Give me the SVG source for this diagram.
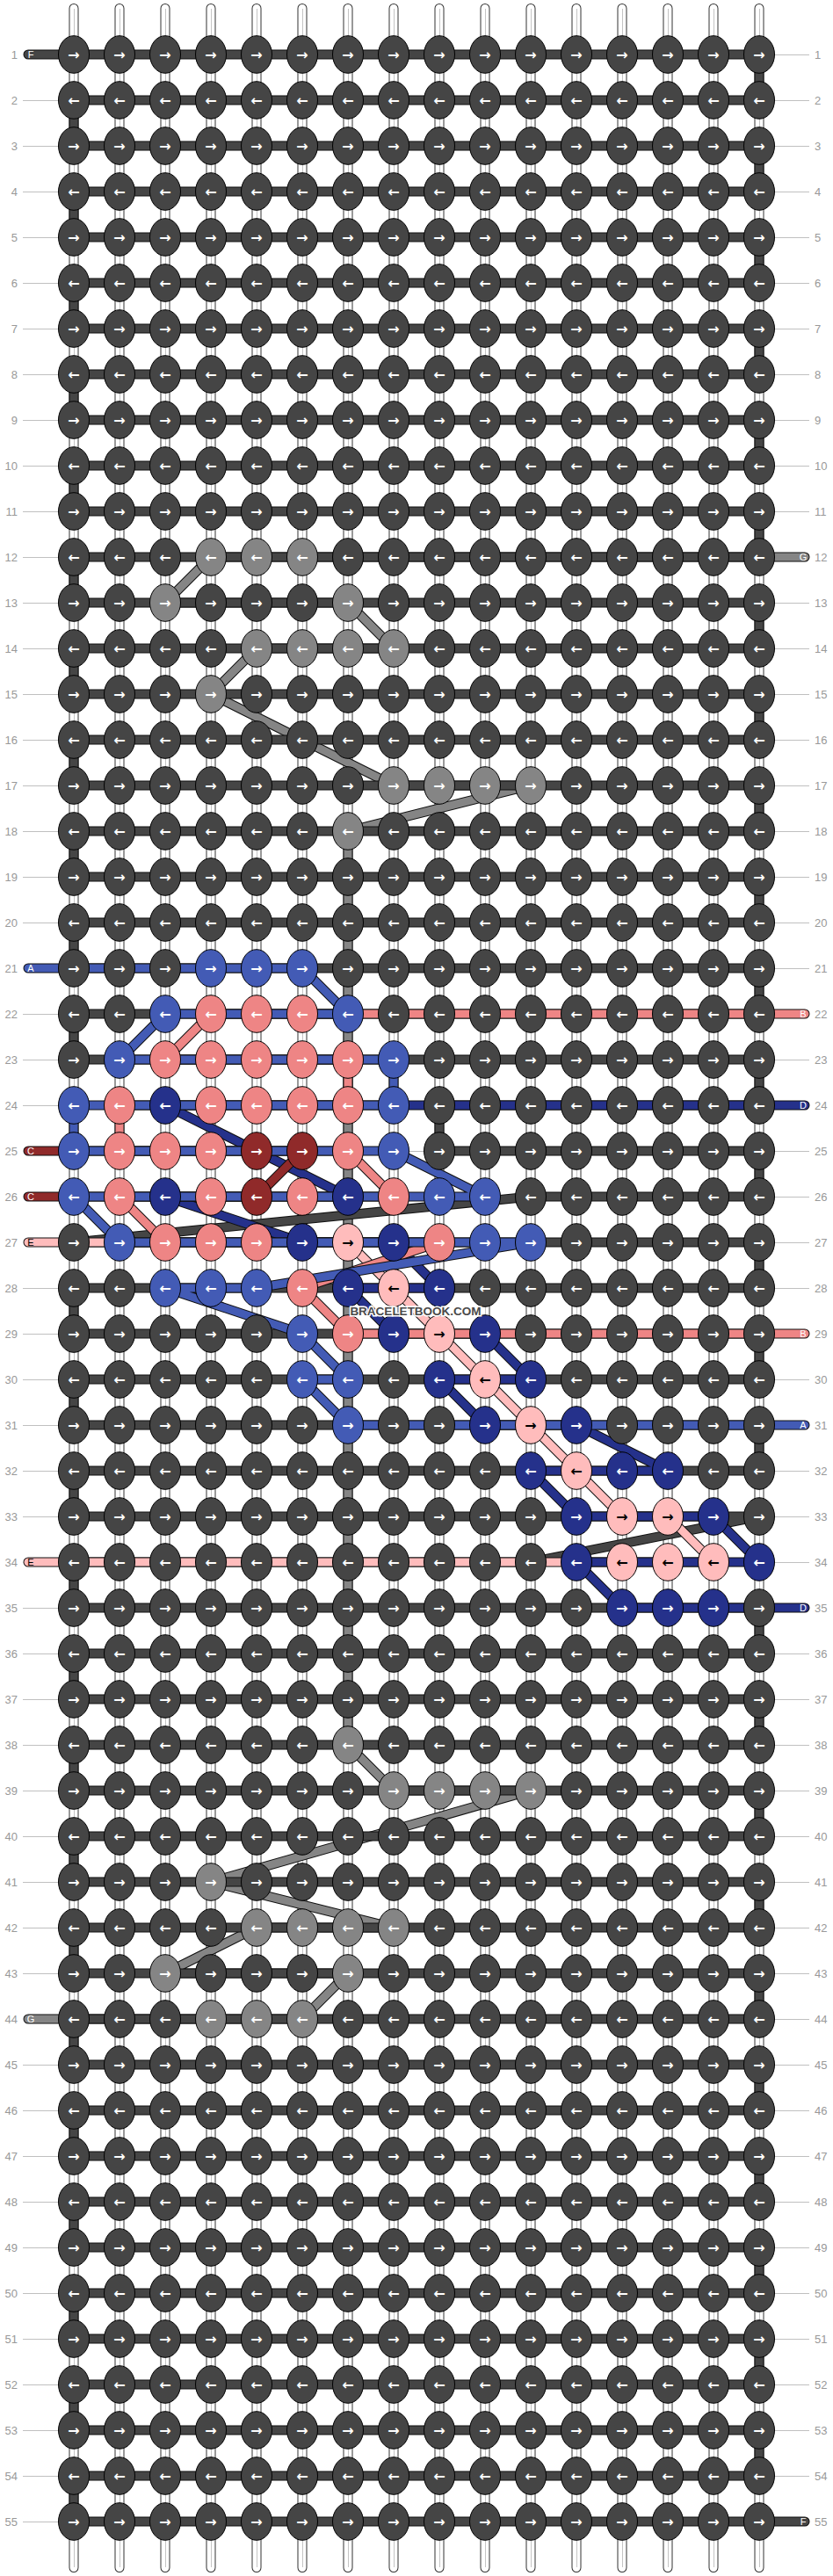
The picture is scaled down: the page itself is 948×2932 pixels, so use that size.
<svg xmlns="http://www.w3.org/2000/svg" width="948" height="2932" viewBox="0 0 948 2932">
<style>
.bo{fill:none;stroke:#333;stroke-width:11;stroke-linecap:round}
.bw{fill:none;stroke:#fff;stroke-width:9;stroke-linecap:round}
.bc{fill:none;stroke:#c4c4c4;stroke-width:1}
.so{stroke:#111;stroke-width:11;stroke-linecap:round;stroke-linejoin:round}
.s{stroke-width:9;stroke-linecap:round;stroke-linejoin:round}
.ar{font-family:"DejaVu Sans",sans-serif;font-size:16px;font-weight:bold;text-anchor:middle;fill:#fff}
.ak{fill:#000}
.lab{font-family:"Liberation Sans",Arial,sans-serif;font-size:13px;fill:#999}
.ln{text-anchor:end}
.tag{font-family:"Liberation Sans",Arial,sans-serif;font-size:11px;text-anchor:middle;fill:#fff}
.rl{fill:none;stroke:#c0c0c0;stroke-width:1}
</style>
<defs>
<path id="pF" fill="none" d="M32 62H864V114H84V166H864V218H84V270H864V322H84V374H864V426H84V478H864V530H84V582H864V634H84V686H864V738H84V790H864V842H84V894H864V946H84V998H864V1050H84V1102H864V1154H84V1206H864V1258H500V1310H864V1362H604L84 1414H864V1466H84V1518H864V1570H84V1622H864V1674H84V1726H864L604 1778H84V1830H864V1882H84V1934H864V1986H84V2038H864V2090H84V2142H864V2194H84V2246H864V2298H84V2350H864V2402H84V2454H864V2506H84V2558H864V2610H84V2662H864V2714H84V2766H864V2818H84V2870H916"/>
<path id="pG" fill="none" d="M916 634H240L188 686H396L448 738H292L240 790L448 894H604L396 946V1986L448 2038H604L240 2142L448 2194H292L188 2246H396L344 2298H32"/>
<path id="pE" fill="none" d="M32 1414H396L448 1466L500 1518L552 1570L604 1622L656 1674L708 1726H760L812 1778H32"/>
<path id="pD" fill="none" d="M916 1258H188L396 1362H188L344 1414H448L500 1466H396L448 1518H552L604 1570H500L552 1622H656L760 1674H604L656 1726H812L864 1778H656L708 1830H916"/>
<path id="pC" fill="none" d="M32 1310H344L292 1362H32"/>
<path id="pB" fill="none" d="M916 1154H240L188 1206H396V1258H136V1310H396L448 1362H136L188 1414H500L344 1466L396 1518H916"/>
<path id="pA" fill="none" d="M32 1102H344L396 1154H188L136 1206H448V1258H84V1310H448L552 1362H84L136 1414H604L292 1466H188L344 1518L396 1570H344L396 1622H916"/>
<g id="fR"><ellipse rx="17.5" ry="21.3" fill="#454545" stroke="#000"/><text class="ar" y="5.5">→</text></g>
<g id="fL"><ellipse rx="17.5" ry="21.3" fill="#454545" stroke="#000"/><text class="ar" y="5.5">←</text></g>
<g id="gR"><ellipse rx="17.5" ry="21.3" fill="#858585" stroke="#000"/><text class="ar" y="5.5">→</text></g>
<g id="gL"><ellipse rx="17.5" ry="21.3" fill="#858585" stroke="#000"/><text class="ar" y="5.5">←</text></g>
<g id="aR"><ellipse rx="17.5" ry="21.3" fill="#435bb5" stroke="#000"/><text class="ar" y="5.5">→</text></g>
<g id="aL"><ellipse rx="17.5" ry="21.3" fill="#435bb5" stroke="#000"/><text class="ar" y="5.5">←</text></g>
<g id="bR"><ellipse rx="17.5" ry="21.3" fill="#ee8585" stroke="#000"/><text class="ar" y="5.5">→</text></g>
<g id="bL"><ellipse rx="17.5" ry="21.3" fill="#ee8585" stroke="#000"/><text class="ar" y="5.5">←</text></g>
<g id="cR"><ellipse rx="17.5" ry="21.3" fill="#902a2a" stroke="#000"/><text class="ar" y="5.5">→</text></g>
<g id="cL"><ellipse rx="17.5" ry="21.3" fill="#902a2a" stroke="#000"/><text class="ar" y="5.5">←</text></g>
<g id="dR"><ellipse rx="17.5" ry="21.3" fill="#25318b" stroke="#000"/><text class="ar" y="5.5">→</text></g>
<g id="dL"><ellipse rx="17.5" ry="21.3" fill="#25318b" stroke="#000"/><text class="ar" y="5.5">←</text></g>
<g id="eR"><ellipse rx="17.5" ry="21.3" fill="#ffbcbc" stroke="#000"/><text class="ar ak" y="5.5">→</text></g>
<g id="eL"><ellipse rx="17.5" ry="21.3" fill="#ffbcbc" stroke="#000"/><text class="ar ak" y="5.5">←</text></g>
</defs>
<rect width="948" height="2932" fill="#fff"/>
<g id="base-strings">
<path class="bo" d="M84 9.5V2922.5M136 9.5V2922.5M188 9.5V2922.5M240 9.5V2922.5M292 9.5V2922.5M344 9.5V2922.5M396 9.5V2922.5M448 9.5V2922.5M500 9.5V2922.5M552 9.5V2922.5M604 9.5V2922.5M656 9.5V2922.5M708 9.5V2922.5M760 9.5V2922.5M812 9.5V2922.5M864 9.5V2922.5"/>
<path class="bw" d="M84 9.5V2922.5M136 9.5V2922.5M188 9.5V2922.5M240 9.5V2922.5M292 9.5V2922.5M344 9.5V2922.5M396 9.5V2922.5M448 9.5V2922.5M500 9.5V2922.5M552 9.5V2922.5M604 9.5V2922.5M656 9.5V2922.5M708 9.5V2922.5M760 9.5V2922.5M812 9.5V2922.5M864 9.5V2922.5"/>
<path class="bc" d="M84.5 10V2922M136.5 10V2922M188.5 10V2922M240.5 10V2922M292.5 10V2922M344.5 10V2922M396.5 10V2922M448.5 10V2922M500.5 10V2922M552.5 10V2922M604.5 10V2922M656.5 10V2922M708.5 10V2922M760.5 10V2922M812.5 10V2922M864.5 10V2922"/>
</g>
<g id="connectors">
<use href="#pG" class="so"/><use href="#pG" class="s" stroke="#858585"/>
<use href="#pF" class="so"/><use href="#pF" class="s" stroke="#454545"/>
<use href="#pE" class="so"/><use href="#pE" class="s" stroke="#ffbcbc"/>
<use href="#pD" class="so"/><use href="#pD" class="s" stroke="#25318b"/>
<use href="#pC" class="so"/><use href="#pC" class="s" stroke="#902a2a"/>
<use href="#pB" class="so"/><use href="#pB" class="s" stroke="#ee8585"/>
<use href="#pA" class="so"/><use href="#pA" class="s" stroke="#435bb5"/>
<path d="M466 1310.5H484" stroke="#bbb" stroke-width="1"/>
</g>
<g id="row-lines" class="rl">
<path d="M26 114.5h40M26 166.5h40M26 218.5h40M26 270.5h40M26 322.5h40M26 374.5h40M26 426.5h40M26 478.5h40M26 530.5h40M26 582.5h40M26 634.5h40M26 686.5h40M26 738.5h40M26 790.5h40M26 842.5h40M26 894.5h40M26 946.5h40M26 998.5h40M26 1050.5h40M26 1154.5h40M26 1206.5h40M26 1258.5h40M26 1466.5h40M26 1518.5h40M26 1570.5h40M26 1622.5h40M26 1674.5h40M26 1726.5h40M26 1830.5h40M26 1882.5h40M26 1934.5h40M26 1986.5h40M26 2038.5h40M26 2090.5h40M26 2142.5h40M26 2194.5h40M26 2246.5h40M26 2350.5h40M26 2402.5h40M26 2454.5h40M26 2506.5h40M26 2558.5h40M26 2610.5h40M26 2662.5h40M26 2714.5h40M26 2766.5h40M26 2818.5h40M26 2870.5h40"/>
<path d="M882 62.5h39M882 114.5h39M882 166.5h39M882 218.5h39M882 270.5h39M882 322.5h39M882 374.5h39M882 426.5h39M882 478.5h39M882 530.5h39M882 582.5h39M882 686.5h39M882 738.5h39M882 790.5h39M882 842.5h39M882 894.5h39M882 946.5h39M882 998.5h39M882 1050.5h39M882 1102.5h39M882 1206.5h39M882 1310.5h39M882 1362.5h39M882 1414.5h39M882 1466.5h39M882 1570.5h39M882 1674.5h39M882 1726.5h39M882 1778.5h39M882 1882.5h39M882 1934.5h39M882 1986.5h39M882 2038.5h39M882 2090.5h39M882 2142.5h39M882 2194.5h39M882 2246.5h39M882 2298.5h39M882 2350.5h39M882 2402.5h39M882 2454.5h39M882 2506.5h39M882 2558.5h39M882 2610.5h39M882 2662.5h39M882 2714.5h39M882 2766.5h39M882 2818.5h39"/>
</g>
<g id="knots">
<g id="r1" transform="translate(0,62)"><use id="n1-0" href="#fR" x="84"/><use id="n1-1" href="#fR" x="136"/><use id="n1-2" href="#fR" x="188"/><use id="n1-3" href="#fR" x="240"/><use id="n1-4" href="#fR" x="292"/><use id="n1-5" href="#fR" x="344"/><use id="n1-6" href="#fR" x="396"/><use id="n1-7" href="#fR" x="448"/><use id="n1-8" href="#fR" x="500"/><use id="n1-9" href="#fR" x="552"/><use id="n1-10" href="#fR" x="604"/><use id="n1-11" href="#fR" x="656"/><use id="n1-12" href="#fR" x="708"/><use id="n1-13" href="#fR" x="760"/><use id="n1-14" href="#fR" x="812"/><use id="n1-15" href="#fR" x="864"/></g>
<g id="r2" transform="translate(0,114)"><use id="n2-0" href="#fL" x="84"/><use id="n2-1" href="#fL" x="136"/><use id="n2-2" href="#fL" x="188"/><use id="n2-3" href="#fL" x="240"/><use id="n2-4" href="#fL" x="292"/><use id="n2-5" href="#fL" x="344"/><use id="n2-6" href="#fL" x="396"/><use id="n2-7" href="#fL" x="448"/><use id="n2-8" href="#fL" x="500"/><use id="n2-9" href="#fL" x="552"/><use id="n2-10" href="#fL" x="604"/><use id="n2-11" href="#fL" x="656"/><use id="n2-12" href="#fL" x="708"/><use id="n2-13" href="#fL" x="760"/><use id="n2-14" href="#fL" x="812"/><use id="n2-15" href="#fL" x="864"/></g>
<g id="r3" transform="translate(0,166)"><use id="n3-0" href="#fR" x="84"/><use id="n3-1" href="#fR" x="136"/><use id="n3-2" href="#fR" x="188"/><use id="n3-3" href="#fR" x="240"/><use id="n3-4" href="#fR" x="292"/><use id="n3-5" href="#fR" x="344"/><use id="n3-6" href="#fR" x="396"/><use id="n3-7" href="#fR" x="448"/><use id="n3-8" href="#fR" x="500"/><use id="n3-9" href="#fR" x="552"/><use id="n3-10" href="#fR" x="604"/><use id="n3-11" href="#fR" x="656"/><use id="n3-12" href="#fR" x="708"/><use id="n3-13" href="#fR" x="760"/><use id="n3-14" href="#fR" x="812"/><use id="n3-15" href="#fR" x="864"/></g>
<g id="r4" transform="translate(0,218)"><use id="n4-0" href="#fL" x="84"/><use id="n4-1" href="#fL" x="136"/><use id="n4-2" href="#fL" x="188"/><use id="n4-3" href="#fL" x="240"/><use id="n4-4" href="#fL" x="292"/><use id="n4-5" href="#fL" x="344"/><use id="n4-6" href="#fL" x="396"/><use id="n4-7" href="#fL" x="448"/><use id="n4-8" href="#fL" x="500"/><use id="n4-9" href="#fL" x="552"/><use id="n4-10" href="#fL" x="604"/><use id="n4-11" href="#fL" x="656"/><use id="n4-12" href="#fL" x="708"/><use id="n4-13" href="#fL" x="760"/><use id="n4-14" href="#fL" x="812"/><use id="n4-15" href="#fL" x="864"/></g>
<g id="r5" transform="translate(0,270)"><use id="n5-0" href="#fR" x="84"/><use id="n5-1" href="#fR" x="136"/><use id="n5-2" href="#fR" x="188"/><use id="n5-3" href="#fR" x="240"/><use id="n5-4" href="#fR" x="292"/><use id="n5-5" href="#fR" x="344"/><use id="n5-6" href="#fR" x="396"/><use id="n5-7" href="#fR" x="448"/><use id="n5-8" href="#fR" x="500"/><use id="n5-9" href="#fR" x="552"/><use id="n5-10" href="#fR" x="604"/><use id="n5-11" href="#fR" x="656"/><use id="n5-12" href="#fR" x="708"/><use id="n5-13" href="#fR" x="760"/><use id="n5-14" href="#fR" x="812"/><use id="n5-15" href="#fR" x="864"/></g>
<g id="r6" transform="translate(0,322)"><use id="n6-0" href="#fL" x="84"/><use id="n6-1" href="#fL" x="136"/><use id="n6-2" href="#fL" x="188"/><use id="n6-3" href="#fL" x="240"/><use id="n6-4" href="#fL" x="292"/><use id="n6-5" href="#fL" x="344"/><use id="n6-6" href="#fL" x="396"/><use id="n6-7" href="#fL" x="448"/><use id="n6-8" href="#fL" x="500"/><use id="n6-9" href="#fL" x="552"/><use id="n6-10" href="#fL" x="604"/><use id="n6-11" href="#fL" x="656"/><use id="n6-12" href="#fL" x="708"/><use id="n6-13" href="#fL" x="760"/><use id="n6-14" href="#fL" x="812"/><use id="n6-15" href="#fL" x="864"/></g>
<g id="r7" transform="translate(0,374)"><use id="n7-0" href="#fR" x="84"/><use id="n7-1" href="#fR" x="136"/><use id="n7-2" href="#fR" x="188"/><use id="n7-3" href="#fR" x="240"/><use id="n7-4" href="#fR" x="292"/><use id="n7-5" href="#fR" x="344"/><use id="n7-6" href="#fR" x="396"/><use id="n7-7" href="#fR" x="448"/><use id="n7-8" href="#fR" x="500"/><use id="n7-9" href="#fR" x="552"/><use id="n7-10" href="#fR" x="604"/><use id="n7-11" href="#fR" x="656"/><use id="n7-12" href="#fR" x="708"/><use id="n7-13" href="#fR" x="760"/><use id="n7-14" href="#fR" x="812"/><use id="n7-15" href="#fR" x="864"/></g>
<g id="r8" transform="translate(0,426)"><use id="n8-0" href="#fL" x="84"/><use id="n8-1" href="#fL" x="136"/><use id="n8-2" href="#fL" x="188"/><use id="n8-3" href="#fL" x="240"/><use id="n8-4" href="#fL" x="292"/><use id="n8-5" href="#fL" x="344"/><use id="n8-6" href="#fL" x="396"/><use id="n8-7" href="#fL" x="448"/><use id="n8-8" href="#fL" x="500"/><use id="n8-9" href="#fL" x="552"/><use id="n8-10" href="#fL" x="604"/><use id="n8-11" href="#fL" x="656"/><use id="n8-12" href="#fL" x="708"/><use id="n8-13" href="#fL" x="760"/><use id="n8-14" href="#fL" x="812"/><use id="n8-15" href="#fL" x="864"/></g>
<g id="r9" transform="translate(0,478)"><use id="n9-0" href="#fR" x="84"/><use id="n9-1" href="#fR" x="136"/><use id="n9-2" href="#fR" x="188"/><use id="n9-3" href="#fR" x="240"/><use id="n9-4" href="#fR" x="292"/><use id="n9-5" href="#fR" x="344"/><use id="n9-6" href="#fR" x="396"/><use id="n9-7" href="#fR" x="448"/><use id="n9-8" href="#fR" x="500"/><use id="n9-9" href="#fR" x="552"/><use id="n9-10" href="#fR" x="604"/><use id="n9-11" href="#fR" x="656"/><use id="n9-12" href="#fR" x="708"/><use id="n9-13" href="#fR" x="760"/><use id="n9-14" href="#fR" x="812"/><use id="n9-15" href="#fR" x="864"/></g>
<g id="r10" transform="translate(0,530)"><use id="n10-0" href="#fL" x="84"/><use id="n10-1" href="#fL" x="136"/><use id="n10-2" href="#fL" x="188"/><use id="n10-3" href="#fL" x="240"/><use id="n10-4" href="#fL" x="292"/><use id="n10-5" href="#fL" x="344"/><use id="n10-6" href="#fL" x="396"/><use id="n10-7" href="#fL" x="448"/><use id="n10-8" href="#fL" x="500"/><use id="n10-9" href="#fL" x="552"/><use id="n10-10" href="#fL" x="604"/><use id="n10-11" href="#fL" x="656"/><use id="n10-12" href="#fL" x="708"/><use id="n10-13" href="#fL" x="760"/><use id="n10-14" href="#fL" x="812"/><use id="n10-15" href="#fL" x="864"/></g>
<g id="r11" transform="translate(0,582)"><use id="n11-0" href="#fR" x="84"/><use id="n11-1" href="#fR" x="136"/><use id="n11-2" href="#fR" x="188"/><use id="n11-3" href="#fR" x="240"/><use id="n11-4" href="#fR" x="292"/><use id="n11-5" href="#fR" x="344"/><use id="n11-6" href="#fR" x="396"/><use id="n11-7" href="#fR" x="448"/><use id="n11-8" href="#fR" x="500"/><use id="n11-9" href="#fR" x="552"/><use id="n11-10" href="#fR" x="604"/><use id="n11-11" href="#fR" x="656"/><use id="n11-12" href="#fR" x="708"/><use id="n11-13" href="#fR" x="760"/><use id="n11-14" href="#fR" x="812"/><use id="n11-15" href="#fR" x="864"/></g>
<g id="r12" transform="translate(0,634)"><use id="n12-0" href="#fL" x="84"/><use id="n12-1" href="#fL" x="136"/><use id="n12-2" href="#fL" x="188"/><use id="n12-3" href="#gL" x="240"/><use id="n12-4" href="#gL" x="292"/><use id="n12-5" href="#gL" x="344"/><use id="n12-6" href="#fL" x="396"/><use id="n12-7" href="#fL" x="448"/><use id="n12-8" href="#fL" x="500"/><use id="n12-9" href="#fL" x="552"/><use id="n12-10" href="#fL" x="604"/><use id="n12-11" href="#fL" x="656"/><use id="n12-12" href="#fL" x="708"/><use id="n12-13" href="#fL" x="760"/><use id="n12-14" href="#fL" x="812"/><use id="n12-15" href="#fL" x="864"/></g>
<g id="r13" transform="translate(0,686)"><use id="n13-0" href="#fR" x="84"/><use id="n13-1" href="#fR" x="136"/><use id="n13-2" href="#gR" x="188"/><use id="n13-3" href="#fR" x="240"/><use id="n13-4" href="#fR" x="292"/><use id="n13-5" href="#fR" x="344"/><use id="n13-6" href="#gR" x="396"/><use id="n13-7" href="#fR" x="448"/><use id="n13-8" href="#fR" x="500"/><use id="n13-9" href="#fR" x="552"/><use id="n13-10" href="#fR" x="604"/><use id="n13-11" href="#fR" x="656"/><use id="n13-12" href="#fR" x="708"/><use id="n13-13" href="#fR" x="760"/><use id="n13-14" href="#fR" x="812"/><use id="n13-15" href="#fR" x="864"/></g>
<g id="r14" transform="translate(0,738)"><use id="n14-0" href="#fL" x="84"/><use id="n14-1" href="#fL" x="136"/><use id="n14-2" href="#fL" x="188"/><use id="n14-3" href="#fL" x="240"/><use id="n14-4" href="#gL" x="292"/><use id="n14-5" href="#gL" x="344"/><use id="n14-6" href="#gL" x="396"/><use id="n14-7" href="#gL" x="448"/><use id="n14-8" href="#fL" x="500"/><use id="n14-9" href="#fL" x="552"/><use id="n14-10" href="#fL" x="604"/><use id="n14-11" href="#fL" x="656"/><use id="n14-12" href="#fL" x="708"/><use id="n14-13" href="#fL" x="760"/><use id="n14-14" href="#fL" x="812"/><use id="n14-15" href="#fL" x="864"/></g>
<g id="r15" transform="translate(0,790)"><use id="n15-0" href="#fR" x="84"/><use id="n15-1" href="#fR" x="136"/><use id="n15-2" href="#fR" x="188"/><use id="n15-3" href="#gR" x="240"/><use id="n15-4" href="#fR" x="292"/><use id="n15-5" href="#fR" x="344"/><use id="n15-6" href="#fR" x="396"/><use id="n15-7" href="#fR" x="448"/><use id="n15-8" href="#fR" x="500"/><use id="n15-9" href="#fR" x="552"/><use id="n15-10" href="#fR" x="604"/><use id="n15-11" href="#fR" x="656"/><use id="n15-12" href="#fR" x="708"/><use id="n15-13" href="#fR" x="760"/><use id="n15-14" href="#fR" x="812"/><use id="n15-15" href="#fR" x="864"/></g>
<g id="r16" transform="translate(0,842)"><use id="n16-0" href="#fL" x="84"/><use id="n16-1" href="#fL" x="136"/><use id="n16-2" href="#fL" x="188"/><use id="n16-3" href="#fL" x="240"/><use id="n16-4" href="#fL" x="292"/><use id="n16-5" href="#fL" x="344"/><use id="n16-6" href="#fL" x="396"/><use id="n16-7" href="#fL" x="448"/><use id="n16-8" href="#fL" x="500"/><use id="n16-9" href="#fL" x="552"/><use id="n16-10" href="#fL" x="604"/><use id="n16-11" href="#fL" x="656"/><use id="n16-12" href="#fL" x="708"/><use id="n16-13" href="#fL" x="760"/><use id="n16-14" href="#fL" x="812"/><use id="n16-15" href="#fL" x="864"/></g>
<g id="r17" transform="translate(0,894)"><use id="n17-0" href="#fR" x="84"/><use id="n17-1" href="#fR" x="136"/><use id="n17-2" href="#fR" x="188"/><use id="n17-3" href="#fR" x="240"/><use id="n17-4" href="#fR" x="292"/><use id="n17-5" href="#fR" x="344"/><use id="n17-6" href="#fR" x="396"/><use id="n17-7" href="#gR" x="448"/><use id="n17-8" href="#gR" x="500"/><use id="n17-9" href="#gR" x="552"/><use id="n17-10" href="#gR" x="604"/><use id="n17-11" href="#fR" x="656"/><use id="n17-12" href="#fR" x="708"/><use id="n17-13" href="#fR" x="760"/><use id="n17-14" href="#fR" x="812"/><use id="n17-15" href="#fR" x="864"/></g>
<g id="r18" transform="translate(0,946)"><use id="n18-0" href="#fL" x="84"/><use id="n18-1" href="#fL" x="136"/><use id="n18-2" href="#fL" x="188"/><use id="n18-3" href="#fL" x="240"/><use id="n18-4" href="#fL" x="292"/><use id="n18-5" href="#fL" x="344"/><use id="n18-6" href="#gL" x="396"/><use id="n18-7" href="#fL" x="448"/><use id="n18-8" href="#fL" x="500"/><use id="n18-9" href="#fL" x="552"/><use id="n18-10" href="#fL" x="604"/><use id="n18-11" href="#fL" x="656"/><use id="n18-12" href="#fL" x="708"/><use id="n18-13" href="#fL" x="760"/><use id="n18-14" href="#fL" x="812"/><use id="n18-15" href="#fL" x="864"/></g>
<g id="r19" transform="translate(0,998)"><use id="n19-0" href="#fR" x="84"/><use id="n19-1" href="#fR" x="136"/><use id="n19-2" href="#fR" x="188"/><use id="n19-3" href="#fR" x="240"/><use id="n19-4" href="#fR" x="292"/><use id="n19-5" href="#fR" x="344"/><use id="n19-6" href="#fR" x="396"/><use id="n19-7" href="#fR" x="448"/><use id="n19-8" href="#fR" x="500"/><use id="n19-9" href="#fR" x="552"/><use id="n19-10" href="#fR" x="604"/><use id="n19-11" href="#fR" x="656"/><use id="n19-12" href="#fR" x="708"/><use id="n19-13" href="#fR" x="760"/><use id="n19-14" href="#fR" x="812"/><use id="n19-15" href="#fR" x="864"/></g>
<g id="r20" transform="translate(0,1050)"><use id="n20-0" href="#fL" x="84"/><use id="n20-1" href="#fL" x="136"/><use id="n20-2" href="#fL" x="188"/><use id="n20-3" href="#fL" x="240"/><use id="n20-4" href="#fL" x="292"/><use id="n20-5" href="#fL" x="344"/><use id="n20-6" href="#fL" x="396"/><use id="n20-7" href="#fL" x="448"/><use id="n20-8" href="#fL" x="500"/><use id="n20-9" href="#fL" x="552"/><use id="n20-10" href="#fL" x="604"/><use id="n20-11" href="#fL" x="656"/><use id="n20-12" href="#fL" x="708"/><use id="n20-13" href="#fL" x="760"/><use id="n20-14" href="#fL" x="812"/><use id="n20-15" href="#fL" x="864"/></g>
<g id="r21" transform="translate(0,1102)"><use id="n21-0" href="#fR" x="84"/><use id="n21-1" href="#fR" x="136"/><use id="n21-2" href="#fR" x="188"/><use id="n21-3" href="#aR" x="240"/><use id="n21-4" href="#aR" x="292"/><use id="n21-5" href="#aR" x="344"/><use id="n21-6" href="#fR" x="396"/><use id="n21-7" href="#fR" x="448"/><use id="n21-8" href="#fR" x="500"/><use id="n21-9" href="#fR" x="552"/><use id="n21-10" href="#fR" x="604"/><use id="n21-11" href="#fR" x="656"/><use id="n21-12" href="#fR" x="708"/><use id="n21-13" href="#fR" x="760"/><use id="n21-14" href="#fR" x="812"/><use id="n21-15" href="#fR" x="864"/></g>
<g id="r22" transform="translate(0,1154)"><use id="n22-0" href="#fL" x="84"/><use id="n22-1" href="#fL" x="136"/><use id="n22-2" href="#aL" x="188"/><use id="n22-3" href="#bL" x="240"/><use id="n22-4" href="#bL" x="292"/><use id="n22-5" href="#bL" x="344"/><use id="n22-6" href="#aL" x="396"/><use id="n22-7" href="#fL" x="448"/><use id="n22-8" href="#fL" x="500"/><use id="n22-9" href="#fL" x="552"/><use id="n22-10" href="#fL" x="604"/><use id="n22-11" href="#fL" x="656"/><use id="n22-12" href="#fL" x="708"/><use id="n22-13" href="#fL" x="760"/><use id="n22-14" href="#fL" x="812"/><use id="n22-15" href="#fL" x="864"/></g>
<g id="r23" transform="translate(0,1206)"><use id="n23-0" href="#fR" x="84"/><use id="n23-1" href="#aR" x="136"/><use id="n23-2" href="#bR" x="188"/><use id="n23-3" href="#bR" x="240"/><use id="n23-4" href="#bR" x="292"/><use id="n23-5" href="#bR" x="344"/><use id="n23-6" href="#bR" x="396"/><use id="n23-7" href="#aR" x="448"/><use id="n23-8" href="#fR" x="500"/><use id="n23-9" href="#fR" x="552"/><use id="n23-10" href="#fR" x="604"/><use id="n23-11" href="#fR" x="656"/><use id="n23-12" href="#fR" x="708"/><use id="n23-13" href="#fR" x="760"/><use id="n23-14" href="#fR" x="812"/><use id="n23-15" href="#fR" x="864"/></g>
<g id="r24" transform="translate(0,1258)"><use id="n24-0" href="#aL" x="84"/><use id="n24-1" href="#bL" x="136"/><use id="n24-2" href="#dL" x="188"/><use id="n24-3" href="#bL" x="240"/><use id="n24-4" href="#bL" x="292"/><use id="n24-5" href="#bL" x="344"/><use id="n24-6" href="#bL" x="396"/><use id="n24-7" href="#aL" x="448"/><use id="n24-8" href="#fL" x="500"/><use id="n24-9" href="#fL" x="552"/><use id="n24-10" href="#fL" x="604"/><use id="n24-11" href="#fL" x="656"/><use id="n24-12" href="#fL" x="708"/><use id="n24-13" href="#fL" x="760"/><use id="n24-14" href="#fL" x="812"/><use id="n24-15" href="#fL" x="864"/></g>
<g id="r25" transform="translate(0,1310)"><use id="n25-0" href="#aR" x="84"/><use id="n25-1" href="#bR" x="136"/><use id="n25-2" href="#bR" x="188"/><use id="n25-3" href="#bR" x="240"/><use id="n25-4" href="#cR" x="292"/><use id="n25-5" href="#cR" x="344"/><use id="n25-6" href="#bR" x="396"/><use id="n25-7" href="#aR" x="448"/><use id="n25-8" href="#fR" x="500"/><use id="n25-9" href="#fR" x="552"/><use id="n25-10" href="#fR" x="604"/><use id="n25-11" href="#fR" x="656"/><use id="n25-12" href="#fR" x="708"/><use id="n25-13" href="#fR" x="760"/><use id="n25-14" href="#fR" x="812"/><use id="n25-15" href="#fR" x="864"/></g>
<g id="r26" transform="translate(0,1362)"><use id="n26-0" href="#aL" x="84"/><use id="n26-1" href="#bL" x="136"/><use id="n26-2" href="#dL" x="188"/><use id="n26-3" href="#bL" x="240"/><use id="n26-4" href="#cL" x="292"/><use id="n26-5" href="#bL" x="344"/><use id="n26-6" href="#dL" x="396"/><use id="n26-7" href="#bL" x="448"/><use id="n26-8" href="#aL" x="500"/><use id="n26-9" href="#aL" x="552"/><use id="n26-10" href="#fL" x="604"/><use id="n26-11" href="#fL" x="656"/><use id="n26-12" href="#fL" x="708"/><use id="n26-13" href="#fL" x="760"/><use id="n26-14" href="#fL" x="812"/><use id="n26-15" href="#fL" x="864"/></g>
<g id="r27" transform="translate(0,1414)"><use id="n27-0" href="#fR" x="84"/><use id="n27-1" href="#aR" x="136"/><use id="n27-2" href="#bR" x="188"/><use id="n27-3" href="#bR" x="240"/><use id="n27-4" href="#bR" x="292"/><use id="n27-5" href="#dR" x="344"/><use id="n27-6" href="#eR" x="396"/><use id="n27-7" href="#dR" x="448"/><use id="n27-8" href="#bR" x="500"/><use id="n27-9" href="#aR" x="552"/><use id="n27-10" href="#aR" x="604"/><use id="n27-11" href="#fR" x="656"/><use id="n27-12" href="#fR" x="708"/><use id="n27-13" href="#fR" x="760"/><use id="n27-14" href="#fR" x="812"/><use id="n27-15" href="#fR" x="864"/></g>
<g id="r28" transform="translate(0,1466)"><use id="n28-0" href="#fL" x="84"/><use id="n28-1" href="#fL" x="136"/><use id="n28-2" href="#aL" x="188"/><use id="n28-3" href="#aL" x="240"/><use id="n28-4" href="#aL" x="292"/><use id="n28-5" href="#bL" x="344"/><use id="n28-6" href="#dL" x="396"/><use id="n28-7" href="#eL" x="448"/><use id="n28-8" href="#dL" x="500"/><use id="n28-9" href="#fL" x="552"/><use id="n28-10" href="#fL" x="604"/><use id="n28-11" href="#fL" x="656"/><use id="n28-12" href="#fL" x="708"/><use id="n28-13" href="#fL" x="760"/><use id="n28-14" href="#fL" x="812"/><use id="n28-15" href="#fL" x="864"/></g>
<g id="r29" transform="translate(0,1518)"><use id="n29-0" href="#fR" x="84"/><use id="n29-1" href="#fR" x="136"/><use id="n29-2" href="#fR" x="188"/><use id="n29-3" href="#fR" x="240"/><use id="n29-4" href="#fR" x="292"/><use id="n29-5" href="#aR" x="344"/><use id="n29-6" href="#bR" x="396"/><use id="n29-7" href="#dR" x="448"/><use id="n29-8" href="#eR" x="500"/><use id="n29-9" href="#dR" x="552"/><use id="n29-10" href="#fR" x="604"/><use id="n29-11" href="#fR" x="656"/><use id="n29-12" href="#fR" x="708"/><use id="n29-13" href="#fR" x="760"/><use id="n29-14" href="#fR" x="812"/><use id="n29-15" href="#fR" x="864"/></g>
<g id="r30" transform="translate(0,1570)"><use id="n30-0" href="#fL" x="84"/><use id="n30-1" href="#fL" x="136"/><use id="n30-2" href="#fL" x="188"/><use id="n30-3" href="#fL" x="240"/><use id="n30-4" href="#fL" x="292"/><use id="n30-5" href="#aL" x="344"/><use id="n30-6" href="#aL" x="396"/><use id="n30-7" href="#fL" x="448"/><use id="n30-8" href="#dL" x="500"/><use id="n30-9" href="#eL" x="552"/><use id="n30-10" href="#dL" x="604"/><use id="n30-11" href="#fL" x="656"/><use id="n30-12" href="#fL" x="708"/><use id="n30-13" href="#fL" x="760"/><use id="n30-14" href="#fL" x="812"/><use id="n30-15" href="#fL" x="864"/></g>
<g id="r31" transform="translate(0,1622)"><use id="n31-0" href="#fR" x="84"/><use id="n31-1" href="#fR" x="136"/><use id="n31-2" href="#fR" x="188"/><use id="n31-3" href="#fR" x="240"/><use id="n31-4" href="#fR" x="292"/><use id="n31-5" href="#fR" x="344"/><use id="n31-6" href="#aR" x="396"/><use id="n31-7" href="#fR" x="448"/><use id="n31-8" href="#fR" x="500"/><use id="n31-9" href="#dR" x="552"/><use id="n31-10" href="#eR" x="604"/><use id="n31-11" href="#dR" x="656"/><use id="n31-12" href="#fR" x="708"/><use id="n31-13" href="#fR" x="760"/><use id="n31-14" href="#fR" x="812"/><use id="n31-15" href="#fR" x="864"/></g>
<g id="r32" transform="translate(0,1674)"><use id="n32-0" href="#fL" x="84"/><use id="n32-1" href="#fL" x="136"/><use id="n32-2" href="#fL" x="188"/><use id="n32-3" href="#fL" x="240"/><use id="n32-4" href="#fL" x="292"/><use id="n32-5" href="#fL" x="344"/><use id="n32-6" href="#fL" x="396"/><use id="n32-7" href="#fL" x="448"/><use id="n32-8" href="#fL" x="500"/><use id="n32-9" href="#fL" x="552"/><use id="n32-10" href="#dL" x="604"/><use id="n32-11" href="#eL" x="656"/><use id="n32-12" href="#dL" x="708"/><use id="n32-13" href="#dL" x="760"/><use id="n32-14" href="#fL" x="812"/><use id="n32-15" href="#fL" x="864"/></g>
<g id="r33" transform="translate(0,1726)"><use id="n33-0" href="#fR" x="84"/><use id="n33-1" href="#fR" x="136"/><use id="n33-2" href="#fR" x="188"/><use id="n33-3" href="#fR" x="240"/><use id="n33-4" href="#fR" x="292"/><use id="n33-5" href="#fR" x="344"/><use id="n33-6" href="#fR" x="396"/><use id="n33-7" href="#fR" x="448"/><use id="n33-8" href="#fR" x="500"/><use id="n33-9" href="#fR" x="552"/><use id="n33-10" href="#fR" x="604"/><use id="n33-11" href="#dR" x="656"/><use id="n33-12" href="#eR" x="708"/><use id="n33-13" href="#eR" x="760"/><use id="n33-14" href="#dR" x="812"/><use id="n33-15" href="#fR" x="864"/></g>
<g id="r34" transform="translate(0,1778)"><use id="n34-0" href="#fL" x="84"/><use id="n34-1" href="#fL" x="136"/><use id="n34-2" href="#fL" x="188"/><use id="n34-3" href="#fL" x="240"/><use id="n34-4" href="#fL" x="292"/><use id="n34-5" href="#fL" x="344"/><use id="n34-6" href="#fL" x="396"/><use id="n34-7" href="#fL" x="448"/><use id="n34-8" href="#fL" x="500"/><use id="n34-9" href="#fL" x="552"/><use id="n34-10" href="#fL" x="604"/><use id="n34-11" href="#dL" x="656"/><use id="n34-12" href="#eL" x="708"/><use id="n34-13" href="#eL" x="760"/><use id="n34-14" href="#eL" x="812"/><use id="n34-15" href="#dL" x="864"/></g>
<g id="r35" transform="translate(0,1830)"><use id="n35-0" href="#fR" x="84"/><use id="n35-1" href="#fR" x="136"/><use id="n35-2" href="#fR" x="188"/><use id="n35-3" href="#fR" x="240"/><use id="n35-4" href="#fR" x="292"/><use id="n35-5" href="#fR" x="344"/><use id="n35-6" href="#fR" x="396"/><use id="n35-7" href="#fR" x="448"/><use id="n35-8" href="#fR" x="500"/><use id="n35-9" href="#fR" x="552"/><use id="n35-10" href="#fR" x="604"/><use id="n35-11" href="#fR" x="656"/><use id="n35-12" href="#dR" x="708"/><use id="n35-13" href="#dR" x="760"/><use id="n35-14" href="#dR" x="812"/><use id="n35-15" href="#fR" x="864"/></g>
<g id="r36" transform="translate(0,1882)"><use id="n36-0" href="#fL" x="84"/><use id="n36-1" href="#fL" x="136"/><use id="n36-2" href="#fL" x="188"/><use id="n36-3" href="#fL" x="240"/><use id="n36-4" href="#fL" x="292"/><use id="n36-5" href="#fL" x="344"/><use id="n36-6" href="#fL" x="396"/><use id="n36-7" href="#fL" x="448"/><use id="n36-8" href="#fL" x="500"/><use id="n36-9" href="#fL" x="552"/><use id="n36-10" href="#fL" x="604"/><use id="n36-11" href="#fL" x="656"/><use id="n36-12" href="#fL" x="708"/><use id="n36-13" href="#fL" x="760"/><use id="n36-14" href="#fL" x="812"/><use id="n36-15" href="#fL" x="864"/></g>
<g id="r37" transform="translate(0,1934)"><use id="n37-0" href="#fR" x="84"/><use id="n37-1" href="#fR" x="136"/><use id="n37-2" href="#fR" x="188"/><use id="n37-3" href="#fR" x="240"/><use id="n37-4" href="#fR" x="292"/><use id="n37-5" href="#fR" x="344"/><use id="n37-6" href="#fR" x="396"/><use id="n37-7" href="#fR" x="448"/><use id="n37-8" href="#fR" x="500"/><use id="n37-9" href="#fR" x="552"/><use id="n37-10" href="#fR" x="604"/><use id="n37-11" href="#fR" x="656"/><use id="n37-12" href="#fR" x="708"/><use id="n37-13" href="#fR" x="760"/><use id="n37-14" href="#fR" x="812"/><use id="n37-15" href="#fR" x="864"/></g>
<g id="r38" transform="translate(0,1986)"><use id="n38-0" href="#fL" x="84"/><use id="n38-1" href="#fL" x="136"/><use id="n38-2" href="#fL" x="188"/><use id="n38-3" href="#fL" x="240"/><use id="n38-4" href="#fL" x="292"/><use id="n38-5" href="#fL" x="344"/><use id="n38-6" href="#gL" x="396"/><use id="n38-7" href="#fL" x="448"/><use id="n38-8" href="#fL" x="500"/><use id="n38-9" href="#fL" x="552"/><use id="n38-10" href="#fL" x="604"/><use id="n38-11" href="#fL" x="656"/><use id="n38-12" href="#fL" x="708"/><use id="n38-13" href="#fL" x="760"/><use id="n38-14" href="#fL" x="812"/><use id="n38-15" href="#fL" x="864"/></g>
<g id="r39" transform="translate(0,2038)"><use id="n39-0" href="#fR" x="84"/><use id="n39-1" href="#fR" x="136"/><use id="n39-2" href="#fR" x="188"/><use id="n39-3" href="#fR" x="240"/><use id="n39-4" href="#fR" x="292"/><use id="n39-5" href="#fR" x="344"/><use id="n39-6" href="#fR" x="396"/><use id="n39-7" href="#gR" x="448"/><use id="n39-8" href="#gR" x="500"/><use id="n39-9" href="#gR" x="552"/><use id="n39-10" href="#gR" x="604"/><use id="n39-11" href="#fR" x="656"/><use id="n39-12" href="#fR" x="708"/><use id="n39-13" href="#fR" x="760"/><use id="n39-14" href="#fR" x="812"/><use id="n39-15" href="#fR" x="864"/></g>
<g id="r40" transform="translate(0,2090)"><use id="n40-0" href="#fL" x="84"/><use id="n40-1" href="#fL" x="136"/><use id="n40-2" href="#fL" x="188"/><use id="n40-3" href="#fL" x="240"/><use id="n40-4" href="#fL" x="292"/><use id="n40-5" href="#fL" x="344"/><use id="n40-6" href="#fL" x="396"/><use id="n40-7" href="#fL" x="448"/><use id="n40-8" href="#fL" x="500"/><use id="n40-9" href="#fL" x="552"/><use id="n40-10" href="#fL" x="604"/><use id="n40-11" href="#fL" x="656"/><use id="n40-12" href="#fL" x="708"/><use id="n40-13" href="#fL" x="760"/><use id="n40-14" href="#fL" x="812"/><use id="n40-15" href="#fL" x="864"/></g>
<g id="r41" transform="translate(0,2142)"><use id="n41-0" href="#fR" x="84"/><use id="n41-1" href="#fR" x="136"/><use id="n41-2" href="#fR" x="188"/><use id="n41-3" href="#gR" x="240"/><use id="n41-4" href="#fR" x="292"/><use id="n41-5" href="#fR" x="344"/><use id="n41-6" href="#fR" x="396"/><use id="n41-7" href="#fR" x="448"/><use id="n41-8" href="#fR" x="500"/><use id="n41-9" href="#fR" x="552"/><use id="n41-10" href="#fR" x="604"/><use id="n41-11" href="#fR" x="656"/><use id="n41-12" href="#fR" x="708"/><use id="n41-13" href="#fR" x="760"/><use id="n41-14" href="#fR" x="812"/><use id="n41-15" href="#fR" x="864"/></g>
<g id="r42" transform="translate(0,2194)"><use id="n42-0" href="#fL" x="84"/><use id="n42-1" href="#fL" x="136"/><use id="n42-2" href="#fL" x="188"/><use id="n42-3" href="#fL" x="240"/><use id="n42-4" href="#gL" x="292"/><use id="n42-5" href="#gL" x="344"/><use id="n42-6" href="#gL" x="396"/><use id="n42-7" href="#gL" x="448"/><use id="n42-8" href="#fL" x="500"/><use id="n42-9" href="#fL" x="552"/><use id="n42-10" href="#fL" x="604"/><use id="n42-11" href="#fL" x="656"/><use id="n42-12" href="#fL" x="708"/><use id="n42-13" href="#fL" x="760"/><use id="n42-14" href="#fL" x="812"/><use id="n42-15" href="#fL" x="864"/></g>
<g id="r43" transform="translate(0,2246)"><use id="n43-0" href="#fR" x="84"/><use id="n43-1" href="#fR" x="136"/><use id="n43-2" href="#gR" x="188"/><use id="n43-3" href="#fR" x="240"/><use id="n43-4" href="#fR" x="292"/><use id="n43-5" href="#fR" x="344"/><use id="n43-6" href="#gR" x="396"/><use id="n43-7" href="#fR" x="448"/><use id="n43-8" href="#fR" x="500"/><use id="n43-9" href="#fR" x="552"/><use id="n43-10" href="#fR" x="604"/><use id="n43-11" href="#fR" x="656"/><use id="n43-12" href="#fR" x="708"/><use id="n43-13" href="#fR" x="760"/><use id="n43-14" href="#fR" x="812"/><use id="n43-15" href="#fR" x="864"/></g>
<g id="r44" transform="translate(0,2298)"><use id="n44-0" href="#fL" x="84"/><use id="n44-1" href="#fL" x="136"/><use id="n44-2" href="#fL" x="188"/><use id="n44-3" href="#gL" x="240"/><use id="n44-4" href="#gL" x="292"/><use id="n44-5" href="#gL" x="344"/><use id="n44-6" href="#fL" x="396"/><use id="n44-7" href="#fL" x="448"/><use id="n44-8" href="#fL" x="500"/><use id="n44-9" href="#fL" x="552"/><use id="n44-10" href="#fL" x="604"/><use id="n44-11" href="#fL" x="656"/><use id="n44-12" href="#fL" x="708"/><use id="n44-13" href="#fL" x="760"/><use id="n44-14" href="#fL" x="812"/><use id="n44-15" href="#fL" x="864"/></g>
<g id="r45" transform="translate(0,2350)"><use id="n45-0" href="#fR" x="84"/><use id="n45-1" href="#fR" x="136"/><use id="n45-2" href="#fR" x="188"/><use id="n45-3" href="#fR" x="240"/><use id="n45-4" href="#fR" x="292"/><use id="n45-5" href="#fR" x="344"/><use id="n45-6" href="#fR" x="396"/><use id="n45-7" href="#fR" x="448"/><use id="n45-8" href="#fR" x="500"/><use id="n45-9" href="#fR" x="552"/><use id="n45-10" href="#fR" x="604"/><use id="n45-11" href="#fR" x="656"/><use id="n45-12" href="#fR" x="708"/><use id="n45-13" href="#fR" x="760"/><use id="n45-14" href="#fR" x="812"/><use id="n45-15" href="#fR" x="864"/></g>
<g id="r46" transform="translate(0,2402)"><use id="n46-0" href="#fL" x="84"/><use id="n46-1" href="#fL" x="136"/><use id="n46-2" href="#fL" x="188"/><use id="n46-3" href="#fL" x="240"/><use id="n46-4" href="#fL" x="292"/><use id="n46-5" href="#fL" x="344"/><use id="n46-6" href="#fL" x="396"/><use id="n46-7" href="#fL" x="448"/><use id="n46-8" href="#fL" x="500"/><use id="n46-9" href="#fL" x="552"/><use id="n46-10" href="#fL" x="604"/><use id="n46-11" href="#fL" x="656"/><use id="n46-12" href="#fL" x="708"/><use id="n46-13" href="#fL" x="760"/><use id="n46-14" href="#fL" x="812"/><use id="n46-15" href="#fL" x="864"/></g>
<g id="r47" transform="translate(0,2454)"><use id="n47-0" href="#fR" x="84"/><use id="n47-1" href="#fR" x="136"/><use id="n47-2" href="#fR" x="188"/><use id="n47-3" href="#fR" x="240"/><use id="n47-4" href="#fR" x="292"/><use id="n47-5" href="#fR" x="344"/><use id="n47-6" href="#fR" x="396"/><use id="n47-7" href="#fR" x="448"/><use id="n47-8" href="#fR" x="500"/><use id="n47-9" href="#fR" x="552"/><use id="n47-10" href="#fR" x="604"/><use id="n47-11" href="#fR" x="656"/><use id="n47-12" href="#fR" x="708"/><use id="n47-13" href="#fR" x="760"/><use id="n47-14" href="#fR" x="812"/><use id="n47-15" href="#fR" x="864"/></g>
<g id="r48" transform="translate(0,2506)"><use id="n48-0" href="#fL" x="84"/><use id="n48-1" href="#fL" x="136"/><use id="n48-2" href="#fL" x="188"/><use id="n48-3" href="#fL" x="240"/><use id="n48-4" href="#fL" x="292"/><use id="n48-5" href="#fL" x="344"/><use id="n48-6" href="#fL" x="396"/><use id="n48-7" href="#fL" x="448"/><use id="n48-8" href="#fL" x="500"/><use id="n48-9" href="#fL" x="552"/><use id="n48-10" href="#fL" x="604"/><use id="n48-11" href="#fL" x="656"/><use id="n48-12" href="#fL" x="708"/><use id="n48-13" href="#fL" x="760"/><use id="n48-14" href="#fL" x="812"/><use id="n48-15" href="#fL" x="864"/></g>
<g id="r49" transform="translate(0,2558)"><use id="n49-0" href="#fR" x="84"/><use id="n49-1" href="#fR" x="136"/><use id="n49-2" href="#fR" x="188"/><use id="n49-3" href="#fR" x="240"/><use id="n49-4" href="#fR" x="292"/><use id="n49-5" href="#fR" x="344"/><use id="n49-6" href="#fR" x="396"/><use id="n49-7" href="#fR" x="448"/><use id="n49-8" href="#fR" x="500"/><use id="n49-9" href="#fR" x="552"/><use id="n49-10" href="#fR" x="604"/><use id="n49-11" href="#fR" x="656"/><use id="n49-12" href="#fR" x="708"/><use id="n49-13" href="#fR" x="760"/><use id="n49-14" href="#fR" x="812"/><use id="n49-15" href="#fR" x="864"/></g>
<g id="r50" transform="translate(0,2610)"><use id="n50-0" href="#fL" x="84"/><use id="n50-1" href="#fL" x="136"/><use id="n50-2" href="#fL" x="188"/><use id="n50-3" href="#fL" x="240"/><use id="n50-4" href="#fL" x="292"/><use id="n50-5" href="#fL" x="344"/><use id="n50-6" href="#fL" x="396"/><use id="n50-7" href="#fL" x="448"/><use id="n50-8" href="#fL" x="500"/><use id="n50-9" href="#fL" x="552"/><use id="n50-10" href="#fL" x="604"/><use id="n50-11" href="#fL" x="656"/><use id="n50-12" href="#fL" x="708"/><use id="n50-13" href="#fL" x="760"/><use id="n50-14" href="#fL" x="812"/><use id="n50-15" href="#fL" x="864"/></g>
<g id="r51" transform="translate(0,2662)"><use id="n51-0" href="#fR" x="84"/><use id="n51-1" href="#fR" x="136"/><use id="n51-2" href="#fR" x="188"/><use id="n51-3" href="#fR" x="240"/><use id="n51-4" href="#fR" x="292"/><use id="n51-5" href="#fR" x="344"/><use id="n51-6" href="#fR" x="396"/><use id="n51-7" href="#fR" x="448"/><use id="n51-8" href="#fR" x="500"/><use id="n51-9" href="#fR" x="552"/><use id="n51-10" href="#fR" x="604"/><use id="n51-11" href="#fR" x="656"/><use id="n51-12" href="#fR" x="708"/><use id="n51-13" href="#fR" x="760"/><use id="n51-14" href="#fR" x="812"/><use id="n51-15" href="#fR" x="864"/></g>
<g id="r52" transform="translate(0,2714)"><use id="n52-0" href="#fL" x="84"/><use id="n52-1" href="#fL" x="136"/><use id="n52-2" href="#fL" x="188"/><use id="n52-3" href="#fL" x="240"/><use id="n52-4" href="#fL" x="292"/><use id="n52-5" href="#fL" x="344"/><use id="n52-6" href="#fL" x="396"/><use id="n52-7" href="#fL" x="448"/><use id="n52-8" href="#fL" x="500"/><use id="n52-9" href="#fL" x="552"/><use id="n52-10" href="#fL" x="604"/><use id="n52-11" href="#fL" x="656"/><use id="n52-12" href="#fL" x="708"/><use id="n52-13" href="#fL" x="760"/><use id="n52-14" href="#fL" x="812"/><use id="n52-15" href="#fL" x="864"/></g>
<g id="r53" transform="translate(0,2766)"><use id="n53-0" href="#fR" x="84"/><use id="n53-1" href="#fR" x="136"/><use id="n53-2" href="#fR" x="188"/><use id="n53-3" href="#fR" x="240"/><use id="n53-4" href="#fR" x="292"/><use id="n53-5" href="#fR" x="344"/><use id="n53-6" href="#fR" x="396"/><use id="n53-7" href="#fR" x="448"/><use id="n53-8" href="#fR" x="500"/><use id="n53-9" href="#fR" x="552"/><use id="n53-10" href="#fR" x="604"/><use id="n53-11" href="#fR" x="656"/><use id="n53-12" href="#fR" x="708"/><use id="n53-13" href="#fR" x="760"/><use id="n53-14" href="#fR" x="812"/><use id="n53-15" href="#fR" x="864"/></g>
<g id="r54" transform="translate(0,2818)"><use id="n54-0" href="#fL" x="84"/><use id="n54-1" href="#fL" x="136"/><use id="n54-2" href="#fL" x="188"/><use id="n54-3" href="#fL" x="240"/><use id="n54-4" href="#fL" x="292"/><use id="n54-5" href="#fL" x="344"/><use id="n54-6" href="#fL" x="396"/><use id="n54-7" href="#fL" x="448"/><use id="n54-8" href="#fL" x="500"/><use id="n54-9" href="#fL" x="552"/><use id="n54-10" href="#fL" x="604"/><use id="n54-11" href="#fL" x="656"/><use id="n54-12" href="#fL" x="708"/><use id="n54-13" href="#fL" x="760"/><use id="n54-14" href="#fL" x="812"/><use id="n54-15" href="#fL" x="864"/></g>
<g id="r55" transform="translate(0,2870)"><use id="n55-0" href="#fR" x="84"/><use id="n55-1" href="#fR" x="136"/><use id="n55-2" href="#fR" x="188"/><use id="n55-3" href="#fR" x="240"/><use id="n55-4" href="#fR" x="292"/><use id="n55-5" href="#fR" x="344"/><use id="n55-6" href="#fR" x="396"/><use id="n55-7" href="#fR" x="448"/><use id="n55-8" href="#fR" x="500"/><use id="n55-9" href="#fR" x="552"/><use id="n55-10" href="#fR" x="604"/><use id="n55-11" href="#fR" x="656"/><use id="n55-12" href="#fR" x="708"/><use id="n55-13" href="#fR" x="760"/><use id="n55-14" href="#fR" x="812"/><use id="n55-15" href="#fR" x="864"/></g>
</g>
<g id="string-tags" class="tag">
<text x="35" y="66">F</text><text x="35" y="1106">A</text><text x="35" y="1314">C</text><text x="35" y="1366">C</text><text x="35" y="1418" fill="#000">E</text><text x="35" y="1782" fill="#000">E</text><text x="35" y="2302">G</text>
<text x="914" y="638">G</text><text x="914" y="1158">B</text><text x="914" y="1262">D</text><text x="914" y="1522">B</text><text x="914" y="1626">A</text><text x="914" y="1834">D</text><text x="914" y="2874">F</text>
</g>
<g id="row-numbers-left" class="lab ln">
<text x="20" y="67">1</text><text x="20" y="119">2</text><text x="20" y="171">3</text><text x="20" y="223">4</text><text x="20" y="275">5</text><text x="20" y="327">6</text><text x="20" y="379">7</text><text x="20" y="431">8</text><text x="20" y="483">9</text><text x="20" y="535">10</text><text x="20" y="587">11</text><text x="20" y="639">12</text><text x="20" y="691">13</text><text x="20" y="743">14</text><text x="20" y="795">15</text><text x="20" y="847">16</text><text x="20" y="899">17</text><text x="20" y="951">18</text><text x="20" y="1003">19</text><text x="20" y="1055">20</text><text x="20" y="1107">21</text><text x="20" y="1159">22</text><text x="20" y="1211">23</text><text x="20" y="1263">24</text><text x="20" y="1315">25</text><text x="20" y="1367">26</text><text x="20" y="1419">27</text><text x="20" y="1471">28</text><text x="20" y="1523">29</text><text x="20" y="1575">30</text><text x="20" y="1627">31</text><text x="20" y="1679">32</text><text x="20" y="1731">33</text><text x="20" y="1783">34</text><text x="20" y="1835">35</text><text x="20" y="1887">36</text><text x="20" y="1939">37</text><text x="20" y="1991">38</text><text x="20" y="2043">39</text><text x="20" y="2095">40</text><text x="20" y="2147">41</text><text x="20" y="2199">42</text><text x="20" y="2251">43</text><text x="20" y="2303">44</text><text x="20" y="2355">45</text><text x="20" y="2407">46</text><text x="20" y="2459">47</text><text x="20" y="2511">48</text><text x="20" y="2563">49</text><text x="20" y="2615">50</text><text x="20" y="2667">51</text><text x="20" y="2719">52</text><text x="20" y="2771">53</text><text x="20" y="2823">54</text><text x="20" y="2875">55</text>
</g>
<g id="row-numbers-right" class="lab">
<text x="927" y="67">1</text><text x="927" y="119">2</text><text x="927" y="171">3</text><text x="927" y="223">4</text><text x="927" y="275">5</text><text x="927" y="327">6</text><text x="927" y="379">7</text><text x="927" y="431">8</text><text x="927" y="483">9</text><text x="927" y="535">10</text><text x="927" y="587">11</text><text x="927" y="639">12</text><text x="927" y="691">13</text><text x="927" y="743">14</text><text x="927" y="795">15</text><text x="927" y="847">16</text><text x="927" y="899">17</text><text x="927" y="951">18</text><text x="927" y="1003">19</text><text x="927" y="1055">20</text><text x="927" y="1107">21</text><text x="927" y="1159">22</text><text x="927" y="1211">23</text><text x="927" y="1263">24</text><text x="927" y="1315">25</text><text x="927" y="1367">26</text><text x="927" y="1419">27</text><text x="927" y="1471">28</text><text x="927" y="1523">29</text><text x="927" y="1575">30</text><text x="927" y="1627">31</text><text x="927" y="1679">32</text><text x="927" y="1731">33</text><text x="927" y="1783">34</text><text x="927" y="1835">35</text><text x="927" y="1887">36</text><text x="927" y="1939">37</text><text x="927" y="1991">38</text><text x="927" y="2043">39</text><text x="927" y="2095">40</text><text x="927" y="2147">41</text><text x="927" y="2199">42</text><text x="927" y="2251">43</text><text x="927" y="2303">44</text><text x="927" y="2355">45</text><text x="927" y="2407">46</text><text x="927" y="2459">47</text><text x="927" y="2511">48</text><text x="927" y="2563">49</text><text x="927" y="2615">50</text><text x="927" y="2667">51</text><text x="927" y="2719">52</text><text x="927" y="2771">53</text><text x="927" y="2823">54</text><text x="927" y="2875">55</text>
</g>
<text id="watermark" x="473" y="1497" font-family="Liberation Sans, Arial, sans-serif" font-size="13.5" font-weight="bold" fill="#4a4a4a" stroke="#fff" stroke-width="3" paint-order="stroke" text-anchor="middle">BRACELETBOOK.COM</text>
</svg>
